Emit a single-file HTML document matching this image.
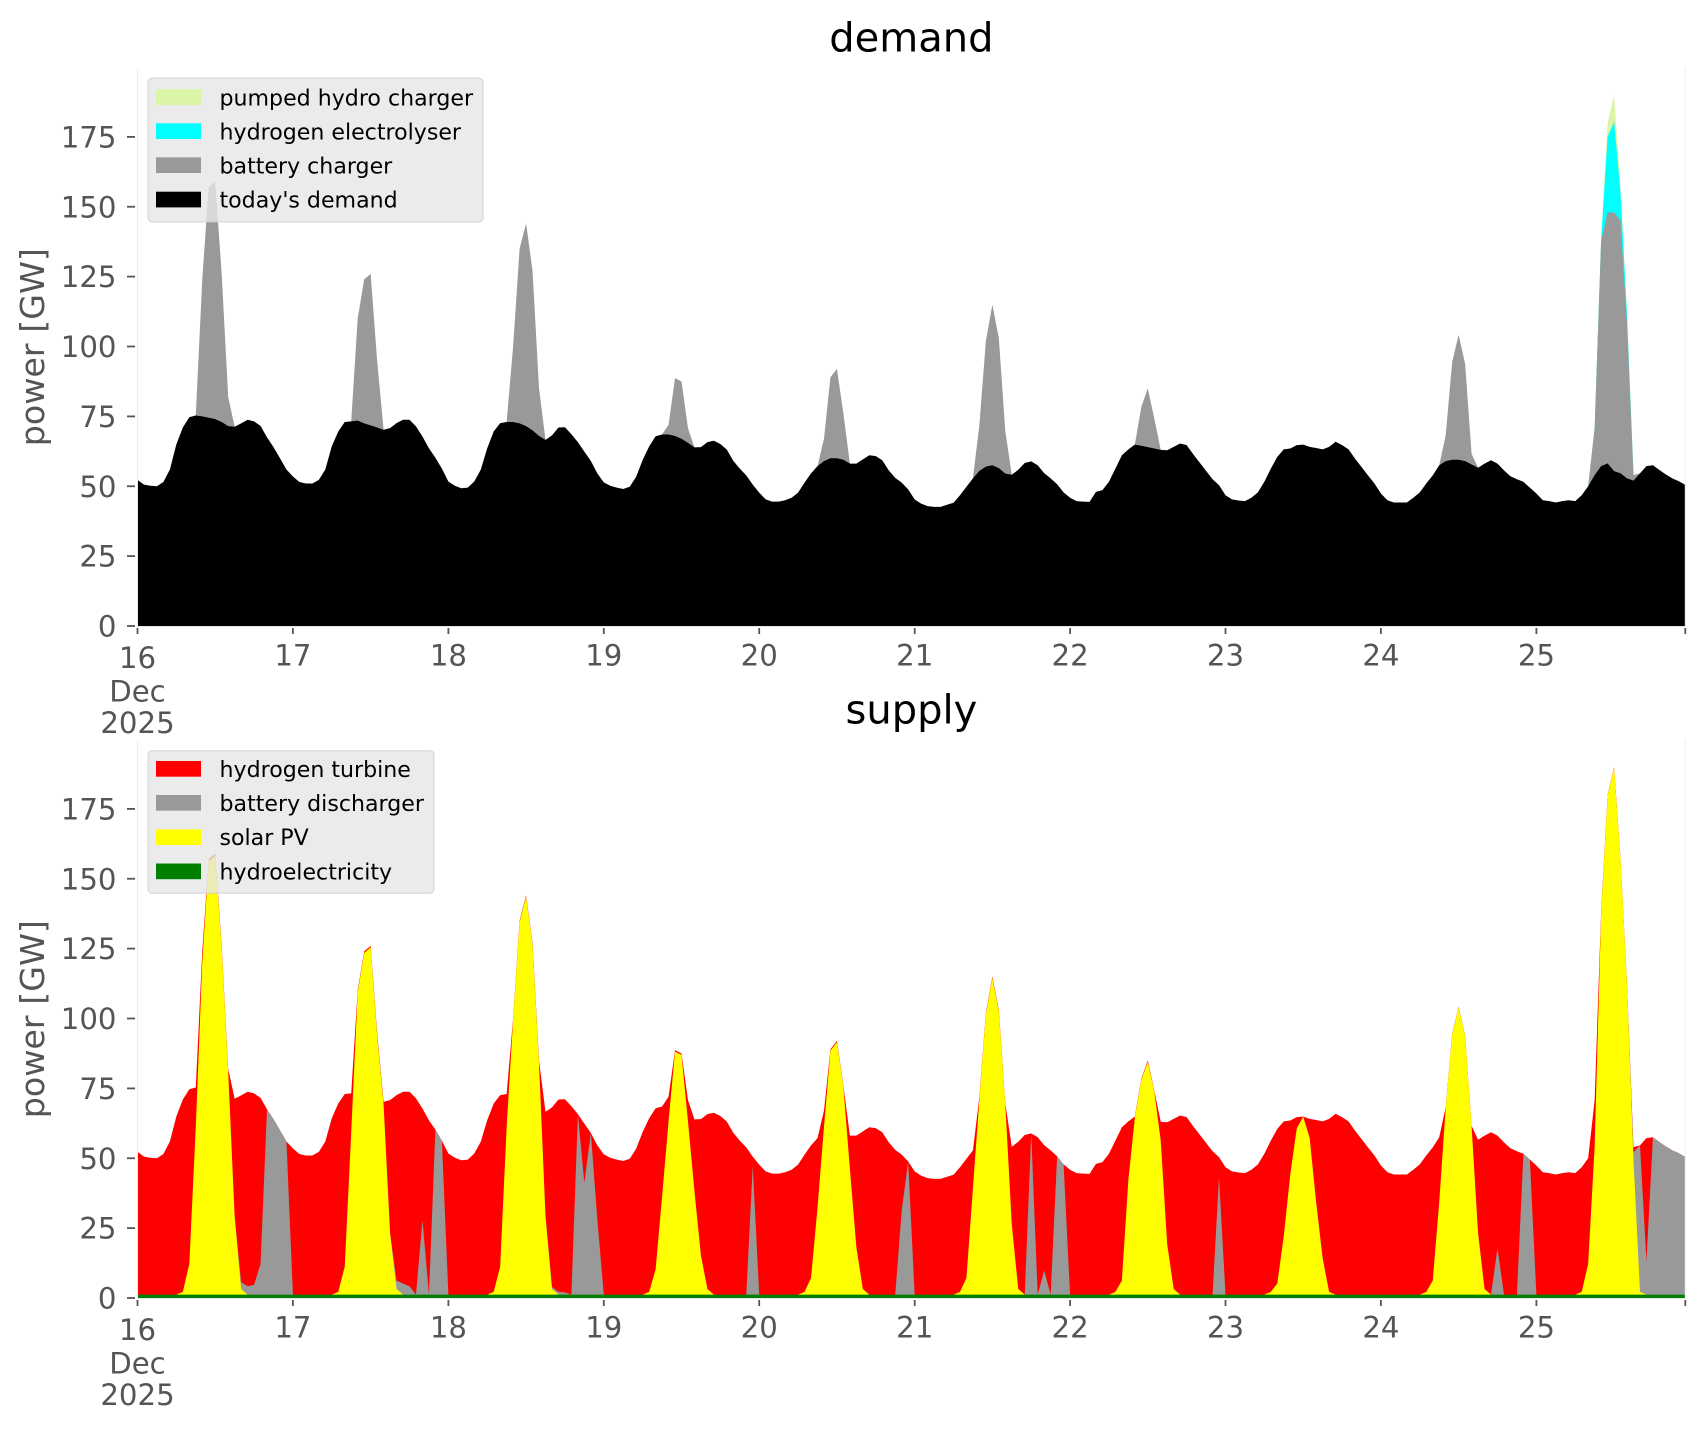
<!DOCTYPE html>
<html><head><meta charset="utf-8"><style>html,body{margin:0;padding:0;background:#fff}svg{display:block}</style></head>
<body>
<svg width="1706" height="1431" viewBox="0 0 1706 1431" xmlns="http://www.w3.org/2000/svg" font-family="'DejaVu Sans','Liberation Sans',sans-serif">
<rect width="1706" height="1431" fill="#fff"/>

<!-- ================= TOP: demand ================= -->
<text x="911.4" y="51.7" font-size="40" text-anchor="middle" fill="#000">demand</text>
<g transform="translate(137.5,626) scale(6.4762,-2.795)">
<polygon fill="#dbf5a7" points="224,0 224,50 225,70.8 226,138.2 227,180 228,190 229,157 230,112.3 231,54 232,54.6 232,0"/>
<polygon fill="#00ffff" points="224,0 224,50 225,70.8 226,138.2 227,175 228,180.4 229,155 230,111 231,54 232,54.6 232,0"/>
<g fill="#999999">
<polygon points="8,0 8,74.7 9,75.3 10,124 11,157 12,159 13,126 14,82 15,71.3 15,0"/>
<polygon points="33,0 33,73.2 34,110 35,124 36,126 37,95 38,70.2 38,0"/>
<polygon points="57,0 57,73 58,100 59,135 60,144 61,127 62,85 63,66.6 63,0"/>
<polygon points="81,0 81,68.5 82,72 83,88.7 84,87.5 85,70.8 86,63.9 86,0"/>
<polygon points="105,0 105,57.2 106,67 107,89 108,92 109,76 110,58.1 110,0"/>
<polygon points="129,0 129,52.8 130,72 131,102 132,115 133,103 134,69.6 135,54.1 135,0"/>
<polygon points="154,0 154,64.9 155,78.4 156,85 157,74.3 158,63 158,0"/>
<polygon points="201,0 201,57.5 202,68.2 203,94.4 204,104.2 205,93.8 206,61.6 207,56.6 207,0"/>
<polygon points="224,0 224,50 225,70.8 226,137.7 227,148 228,148 229,145 230,108 231,54 232,54.6 232,0"/>
</g>
<polygon fill="#000000" points="0,0 0,52.3 1,50.6 2,50.2 3,50 4,51.5 5,56 6,65 7,71 8,74.7 9,75.3 10,75 11,74.5 12,74 13,73 14,71.5 15,71.3 16,72.5 17,73.8 18,73.2 19,71.6 20,67.5 21,64 22,60 23,56 24,53.5 25,51.5 26,51 27,51 28,52.3 29,56 30,64.3 31,69.6 32,73 33,73.2 34,73.5 35,72.5 36,71.8 37,71 38,70.2 39,70.8 40,72.6 41,73.8 42,73.8 43,71.4 44,67.8 45,63.6 46,60.2 47,56.3 48,51.7 49,50.2 50,49.3 51,49.5 52,51.7 53,55.9 54,63.6 55,69.6 56,72.6 57,73 58,73 59,72.5 60,71.5 61,70 62,68 63,66.6 64,68.2 65,71 66,71.1 67,68.6 68,65.8 69,62.4 70,59.1 71,54.6 72,51.4 73,50.2 74,49.5 75,49 76,49.8 77,53.4 78,59.4 79,64.2 80,67.9 81,68.5 82,68.5 83,68 84,67 85,65.5 86,63.9 87,64 88,65.8 89,66.3 90,65.1 91,63.1 92,59.1 93,56.3 94,53.9 95,50.6 96,47.7 97,45.3 98,44.5 99,44.5 100,45 101,45.9 102,47.7 103,51.3 104,54.6 105,57.2 106,59 107,60 108,60 109,59.5 110,58.1 111,58.1 112,59.6 113,61.1 114,60.8 115,59.3 116,55.7 117,53 118,51.3 119,48.9 120,45.3 121,43.8 122,42.9 123,42.6 124,42.6 125,43.4 126,44.1 127,46.8 128,49.8 129,52.8 130,55.5 131,57 132,57.5 133,56.5 134,54.5 135,54.1 136,55.9 137,58.3 138,58.9 139,57.5 140,54.7 141,52.8 142,50.7 143,47.8 144,45.9 145,44.7 146,44.5 147,44.4 148,48 149,48.6 150,51.6 151,56.3 152,61.1 153,63.2 154,64.9 155,64.5 156,64 157,63.5 158,63 159,62.9 160,64.1 161,65.3 162,64.7 163,61.5 164,58.5 165,55.5 166,52.5 167,50.4 168,46.8 169,45.3 170,44.9 171,44.7 172,45.9 173,47.8 174,51.6 175,56.3 176,60.5 177,63.2 178,63.5 179,64.7 180,64.9 181,64.1 182,63.7 183,63.2 184,64.1 185,65.9 186,64.7 187,63.2 188,59.9 189,56.9 190,53.9 191,51 192,47.4 193,45 194,44.2 195,44.2 196,44.2 197,45.9 198,47.8 199,51 200,53.9 201,57.5 202,59 203,59.5 204,59.5 205,59 206,57.8 207,56.6 208,58.1 209,59.3 210,58.1 211,55.7 212,53.6 213,52.5 214,51.6 215,49.5 216,47.4 217,45 218,44.7 219,44.2 220,44.7 221,45 222,44.7 223,46.8 224,50 225,54 226,57.2 227,58.2 228,55.4 229,54.6 230,52.8 231,52 232,54.6 233,57.2 234,57.5 235,55.8 236,54.2 237,52.8 238,51.8 239,50.5 239,0"/>
</g>
<!-- spines top -->
<line x1="137.5" y1="68" x2="137.5" y2="626.5" stroke="#eeeeee" stroke-width="1"/>
<line x1="1685.3" y1="68" x2="1685.3" y2="626.5" stroke="#eeeeee" stroke-width="1"/>
<line x1="137" y1="626.5" x2="1686" y2="626.5" stroke="#e6e6e6" stroke-width="1"/>
<!-- y ticks top -->
<g stroke="#555" stroke-width="1.8">
<line x1="127" y1="626" x2="135" y2="626"/><line x1="127" y1="556.1" x2="135" y2="556.1"/><line x1="127" y1="486.25" x2="135" y2="486.25"/><line x1="127" y1="416.4" x2="135" y2="416.4"/><line x1="127" y1="346.5" x2="135" y2="346.5"/><line x1="127" y1="276.6" x2="135" y2="276.6"/><line x1="127" y1="206.75" x2="135" y2="206.75"/><line x1="127" y1="136.9" x2="135" y2="136.9"/>
</g>
<g font-size="29.2" fill="#555" text-anchor="end">
<text x="116.5" y="636.6">0</text><text x="116.5" y="566.7">25</text><text x="116.5" y="496.9">50</text><text x="116.5" y="427">75</text><text x="116.5" y="357.1">100</text><text x="116.5" y="287.2">125</text><text x="116.5" y="217.4">150</text><text x="116.5" y="147.5">175</text>
</g>
<!-- x ticks top -->
<g stroke="#555" stroke-width="1.8">
<line x1="137.5" y1="628" x2="137.5" y2="634"/><line x1="292.9" y1="628" x2="292.9" y2="634"/><line x1="448.4" y1="628" x2="448.4" y2="634"/><line x1="603.8" y1="628" x2="603.8" y2="634"/><line x1="759.2" y1="628" x2="759.2" y2="634"/><line x1="914.7" y1="628" x2="914.7" y2="634"/><line x1="1070.1" y1="628" x2="1070.1" y2="634"/><line x1="1225.5" y1="628" x2="1225.5" y2="634"/><line x1="1380.9" y1="628" x2="1380.9" y2="634"/><line x1="1536.4" y1="628" x2="1536.4" y2="634"/><line x1="1685.3" y1="628" x2="1685.3" y2="634"/>
</g>
<g font-size="29.2" fill="#555" text-anchor="middle">
<text x="137.5" y="668">16</text><text x="137.5" y="701.3">Dec</text><text x="137.5" y="733">2025</text>
<text x="292.9" y="665.3">17</text><text x="448.4" y="665.3">18</text><text x="603.8" y="665.3">19</text><text x="759.2" y="665.3">20</text><text x="914.7" y="665.3">21</text><text x="1070.1" y="665.3">22</text><text x="1225.5" y="665.3">23</text><text x="1380.9" y="665.3">24</text><text x="1536.4" y="665.3">25</text>
</g>
<text transform="translate(43.8,347.2) rotate(-90)" font-size="33.3" fill="#555" text-anchor="middle">power [GW]</text>
<!-- legend top -->
<rect x="148" y="78" width="335" height="144" rx="4" ry="4" fill="rgba(230,230,230,0.8)" stroke="rgba(204,204,204,0.8)" stroke-width="1"/>
<rect x="156" y="89.3" width="45" height="15.7" fill="#dbf5a7"/>
<rect x="156" y="123.3" width="45" height="15.7" fill="#00ffff"/>
<rect x="156" y="157.3" width="45" height="15.7" fill="#999999"/>
<rect x="156" y="191.7" width="45" height="15.7" fill="#000000"/>
<g font-size="22.1" fill="#000">
<text x="219.5" y="105.5">pumped hydro charger</text>
<text x="219.5" y="139.5">hydrogen electrolyser</text>
<text x="219.5" y="173.5">battery charger</text>
<text x="219.5" y="207.5">today's demand</text>
</g>

<!-- ================= BOTTOM: supply ================= -->
<text x="911.4" y="723.7" font-size="40" text-anchor="middle" fill="#000">supply</text>
<g transform="translate(137.5,1298) scale(6.4762,-2.795)">
<polygon fill="#ff0000" points="0,0 0,52.3 1,50.6 2,50.2 3,50 4,51.5 5,56 6,65 7,71 8,74.7 9,75.3 10,124 11,157 12,159 13,126 14,82 15,71.3 16,72.5 17,73.8 18,73.2 19,71.6 20,67.5 21,64 22,60 23,56 24,53.5 25,51.5 26,51 27,51 28,52.3 29,56 30,64.3 31,69.6 32,73 33,73.2 34,110 35,124 36,126 37,95 38,70.2 39,70.8 40,72.6 41,73.8 42,73.8 43,71.4 44,67.8 45,63.6 46,60.2 47,56.3 48,51.7 49,50.2 50,49.3 51,49.5 52,51.7 53,55.9 54,63.6 55,69.6 56,72.6 57,73 58,100 59,135 60,144 61,127 62,85 63,66.6 64,68.2 65,71 66,71.1 67,68.6 68,65.8 69,62.4 70,59.1 71,54.6 72,51.4 73,50.2 74,49.5 75,49 76,49.8 77,53.4 78,59.4 79,64.2 80,67.9 81,68.5 82,72 83,88.7 84,87.5 85,70.8 86,63.9 87,64 88,65.8 89,66.3 90,65.1 91,63.1 92,59.1 93,56.3 94,53.9 95,50.6 96,47.7 97,45.3 98,44.5 99,44.5 100,45 101,45.9 102,47.7 103,51.3 104,54.6 105,57.2 106,67 107,89 108,92 109,76 110,58.1 111,58.1 112,59.6 113,61.1 114,60.8 115,59.3 116,55.7 117,53 118,51.3 119,48.9 120,45.3 121,43.8 122,42.9 123,42.6 124,42.6 125,43.4 126,44.1 127,46.8 128,49.8 129,52.8 130,72 131,102 132,115 133,103 134,69.6 135,54.1 136,55.9 137,58.3 138,58.9 139,57.5 140,54.7 141,52.8 142,50.7 143,47.8 144,45.9 145,44.7 146,44.5 147,44.4 148,48 149,48.6 150,51.6 151,56.3 152,61.1 153,63.2 154,64.9 155,78.4 156,85 157,74.3 158,63 159,62.9 160,64.1 161,65.3 162,64.7 163,61.5 164,58.5 165,55.5 166,52.5 167,50.4 168,46.8 169,45.3 170,44.9 171,44.7 172,45.9 173,47.8 174,51.6 175,56.3 176,60.5 177,63.2 178,63.5 179,64.7 180,64.9 181,64.1 182,63.7 183,63.2 184,64.1 185,65.9 186,64.7 187,63.2 188,59.9 189,56.9 190,53.9 191,51 192,47.4 193,45 194,44.2 195,44.2 196,44.2 197,45.9 198,47.8 199,51 200,53.9 201,57.5 202,68.2 203,94.4 204,104.2 205,93.8 206,61.6 207,56.6 208,58.1 209,59.3 210,58.1 211,55.7 212,53.6 213,52.5 214,51.6 215,49.5 216,47.4 217,45 218,44.7 219,44.2 220,44.7 221,45 222,44.7 223,46.8 224,50 225,70.8 226,138.2 227,180 228,190 229,157 230,112.3 231,54 232,54.6 233,57.2 234,57.5 235,55.8 236,54.2 237,52.8 238,51.8 239,50.5 239,0"/>
<g fill="#999999">
<polygon points="15,0 15,29.2 16,5.7 17,4.2 18,4.7 19,12.2 20,67.5 21,64 22,60 23,56 24,1.2 24,0"/>
<polygon points="39,0 39,23.2 40,6.2 41,5.2 42,4.2 43,1.2 44,27.9 45,1.2 46,60.2 47,56.3 48,1.2 48,0"/>
<polygon points="63,0 63,29.2 64,4 65,2.2 66,2 67,1.2 68,65.8 69,41.2 70,59.1 71,28.2 72,1.2 72,0"/>
<polygon points="94,0 94,1.2 95,47.2 96,1.2 96,0"/>
<polygon points="117,0 117,1.2 118,31.2 119,48.9 120,1.2 120,0"/>
<polygon points="137,0 137,1.2 138,58.9 139,1.2 140,9.8 141,1.2 142,50.7 143,47.8 144,1.2 144,0"/>
<polygon points="166,0 166,1.2 167,43.2 168,1.2 168,0"/>
<polygon points="209,0 209,1.2 210,17.8 211,1.2 211,0"/>
<polygon points="213,0 213,1.2 214,51.6 215,49.5 216,1.2 216,0"/>
<polygon points="230,0 230,112.2 231,52.2 232,54.6 233,13.2 234,57.5 235,55.8 236,54.2 237,52.8 238,51.8 239,50.5 239,0"/>
</g>
<g fill="#ffff00">
<polygon points="6,0 6,1.2 7,2.2 8,12.2 9,61.2 10,120.2 11,156.2 12,158.2 13,125.2 14,81.2 15,29.2 16,3.2 17,1.2 17,0"/>
<polygon points="30,0 30,1.2 31,2.2 32,11.2 33,59.2 34,109.2 35,123.5 36,125.5 37,94 38,69.2 39,23.2 40,3.2 41,1.2 41,0"/>
<polygon points="54,0 54,1.2 55,2.2 56,11.2 57,61.2 58,99.5 59,134.5 60,143.5 61,126.5 62,84 63,29.2 64,3.2 65,1.2 65,0"/>
<polygon points="78,0 78,1.2 79,2.2 80,10.2 81,36.2 82,63.2 83,88.2 84,87 85,63.2 86,38.2 87,15.2 88,3.2 89,1.2 89,0"/>
<polygon points="102,0 102,1.2 103,2.2 104,7.2 105,32.2 106,61.2 107,88.5 108,91.5 109,75.5 110,46.2 111,18.2 112,3.2 113,1.2 113,0"/>
<polygon points="126,0 126,1.2 127,2.2 128,7.2 129,39.2 130,71.2 131,101.5 132,114.5 133,102.5 134,69.2 135,26.2 136,3.2 137,1.2 137,0"/>
<polygon points="150,0 150,1.2 151,2.2 152,6.2 153,42.2 154,64.5 155,78 156,84.5 157,74 158,56.2 159,19.2 160,3.2 161,1.2 161,0"/>
<polygon points="174,0 174,1.2 175,2.2 176,5.2 177,22.2 178,44.2 179,60.7 180,64.9 181,57.2 182,34.2 183,14.2 184,2.2 185,1.2 185,0"/>
<polygon points="198,0 198,1.2 199,2.2 200,6.2 201,34.2 202,68 203,94.2 204,104 205,93.6 206,61.4 207,23.2 208,3.2 209,1.2 209,0"/>
<polygon points="222,0 222,1.2 223,2.2 224,12.2 225,54.2 226,137.2 227,179.8 228,189.8 229,156.8 230,112.2 231,49.2 232,2.2 233,1.2 233,0"/>
</g>
<polygon fill="#008000" points="0,0 0,1.2 239,1.2 239,0"/>
</g>
<!-- spines bottom -->
<line x1="137.5" y1="740" x2="137.5" y2="1298.5" stroke="#eeeeee" stroke-width="1"/>
<line x1="1685.3" y1="740" x2="1685.3" y2="1298.5" stroke="#eeeeee" stroke-width="1"/>
<line x1="137" y1="1298.5" x2="1686" y2="1298.5" stroke="#e6e6e6" stroke-width="1"/>
<!-- y ticks bottom -->
<g stroke="#555" stroke-width="1.8">
<line x1="127" y1="1298" x2="135" y2="1298"/><line x1="127" y1="1228.1" x2="135" y2="1228.1"/><line x1="127" y1="1158.25" x2="135" y2="1158.25"/><line x1="127" y1="1088.4" x2="135" y2="1088.4"/><line x1="127" y1="1018.5" x2="135" y2="1018.5"/><line x1="127" y1="948.6" x2="135" y2="948.6"/><line x1="127" y1="878.75" x2="135" y2="878.75"/><line x1="127" y1="808.9" x2="135" y2="808.9"/>
</g>
<g font-size="29.2" fill="#555" text-anchor="end">
<text x="116.5" y="1308.6">0</text><text x="116.5" y="1238.7">25</text><text x="116.5" y="1168.9">50</text><text x="116.5" y="1099">75</text><text x="116.5" y="1029.1">100</text><text x="116.5" y="959.2">125</text><text x="116.5" y="889.4">150</text><text x="116.5" y="819.5">175</text>
</g>
<!-- x ticks bottom -->
<g stroke="#555" stroke-width="1.8">
<line x1="137.5" y1="1300" x2="137.5" y2="1306"/><line x1="292.9" y1="1300" x2="292.9" y2="1306"/><line x1="448.4" y1="1300" x2="448.4" y2="1306"/><line x1="603.8" y1="1300" x2="603.8" y2="1306"/><line x1="759.2" y1="1300" x2="759.2" y2="1306"/><line x1="914.7" y1="1300" x2="914.7" y2="1306"/><line x1="1070.1" y1="1300" x2="1070.1" y2="1306"/><line x1="1225.5" y1="1300" x2="1225.5" y2="1306"/><line x1="1380.9" y1="1300" x2="1380.9" y2="1306"/><line x1="1536.4" y1="1300" x2="1536.4" y2="1306"/><line x1="1685.3" y1="1300" x2="1685.3" y2="1306"/>
</g>
<g font-size="29.2" fill="#555" text-anchor="middle">
<text x="137.5" y="1340">16</text><text x="137.5" y="1373.3">Dec</text><text x="137.5" y="1405">2025</text>
<text x="292.9" y="1337.3">17</text><text x="448.4" y="1337.3">18</text><text x="603.8" y="1337.3">19</text><text x="759.2" y="1337.3">20</text><text x="914.7" y="1337.3">21</text><text x="1070.1" y="1337.3">22</text><text x="1225.5" y="1337.3">23</text><text x="1380.9" y="1337.3">24</text><text x="1536.4" y="1337.3">25</text>
</g>
<text transform="translate(43.8,1019.2) rotate(-90)" font-size="33.3" fill="#555" text-anchor="middle">power [GW]</text>
<!-- legend bottom -->
<rect x="148" y="750.7" width="286" height="142.6" rx="4" ry="4" fill="rgba(230,230,230,0.8)" stroke="rgba(204,204,204,0.8)" stroke-width="1"/>
<rect x="156" y="761" width="45" height="15.7" fill="#ff0000"/>
<rect x="156" y="795" width="45" height="15.7" fill="#999999"/>
<rect x="156" y="829.3" width="45" height="15.7" fill="#ffff00"/>
<rect x="156" y="863.5" width="45" height="15.7" fill="#008000"/>
<g font-size="22.1" fill="#000">
<text x="219.5" y="777.2">hydrogen turbine</text>
<text x="219.5" y="811.2">battery discharger</text>
<text x="219.5" y="845.2">solar PV</text>
<text x="219.5" y="879.4">hydroelectricity</text>
</g>
</svg>
</body></html>
